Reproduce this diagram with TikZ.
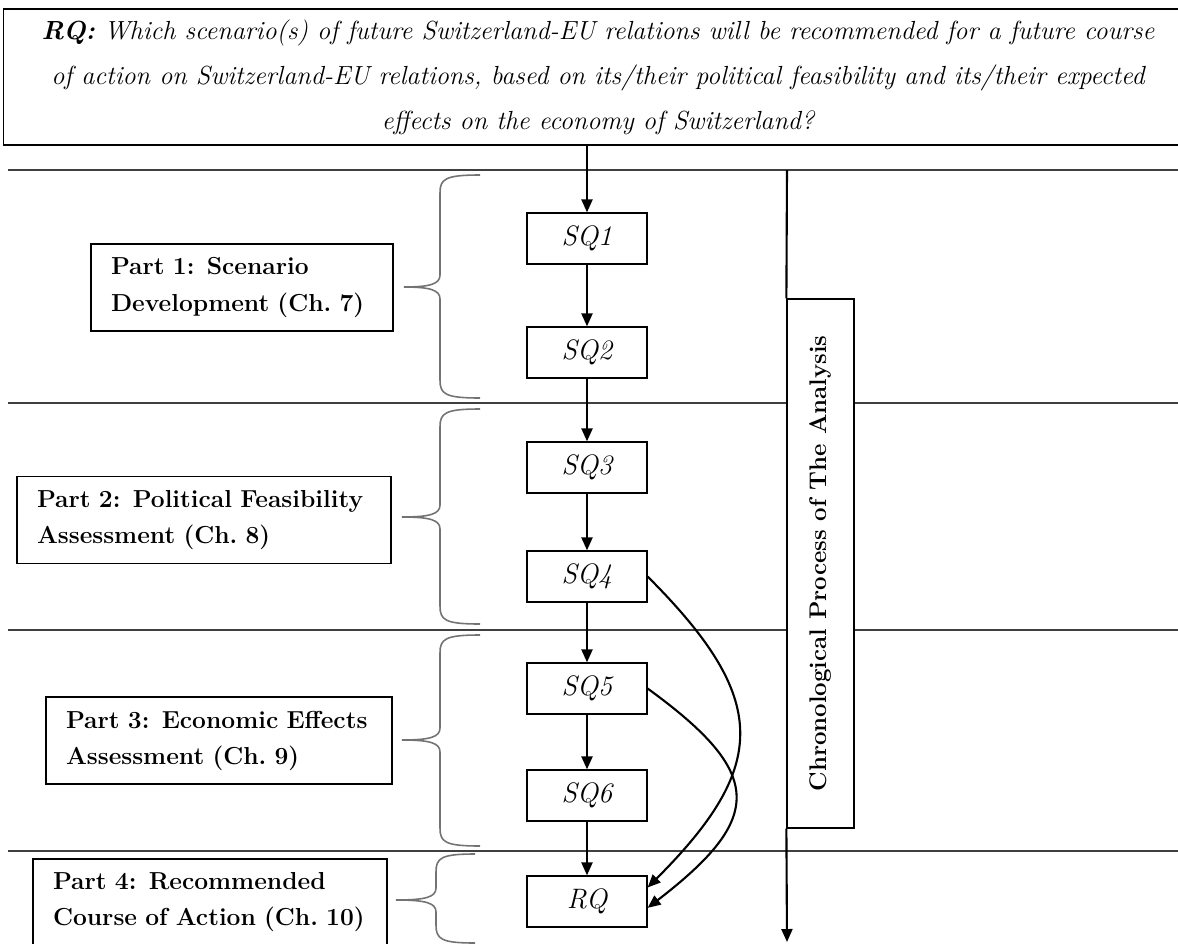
\documentclass[tikz,border=0pt]{standalone}
\usepackage{tikz}
\usetikzlibrary{
  arrows.meta,
  calc,
  positioning,
}
\tikzset{
  >={Triangle[length=0.26cm,width=0.22cm]},
}

\begin{document}
\begin{tikzpicture}[x=0.02cm, y=-0.02cm,
    question/.style={draw, line width=0.7pt, align=center,
      minimum width=23.8cm, minimum height=2.72cm,
      font=\fontsize{14.9}{25.6}\selectfont\itshape},
    subq/.style={draw, line width=0.7pt, minimum width=2.4cm,
      minimum height=1.02cm, font=\fontsize{16}{18}\selectfont\itshape},
    partbox/.style={draw, line width=0.7pt, align=left,
      minimum height=1.74cm, inner xsep=0.4cm,
      font=\fontsize{14}{20.5}\selectfont\bfseries},
    chronobox/.style={draw, fill=white, line width=0.7pt, rotate=90,
      minimum width=10.58cm, minimum height=1.34cm,
      font=\fontsize{13.7}{15}\selectfont\bfseries},
    divider/.style={line width=0.7pt, black!75},
    brace/.style={line width=0.9pt, black!55},
    flow/.style={->, line width=1.2pt},
  ]
  \useasboundingbox (0,0) rectangle (1178,944);

  % the four bands
  \foreach \y in {170,403,630,851} {
    \draw[divider] (8,\y) -- (1190,\y);
  }

  \node[question] (rq) at (598,77) {\textbf{RQ:} Which scenario(s) of future
    Switzerland-EU relations will be recommended for a future course\\
    of action on Switzerland-EU relations, based on its/their political
    feasibility and its/their expected\\
    effects on the economy of Switzerland?};

  \foreach \i/\y in {1/238.5, 2/352.5, 3/467.5, 4/576.5, 5/688.5, 6/795.5} {
    \node[subq] (sq\i) at (587,\y) {SQ\i};
  }
  \node[subq] (rqend) at (587,901.5) {RQ};

  \draw[flow] (rq.south -| sq1) -- (sq1);
  \foreach \a/\b in {sq1/sq2, sq2/sq3, sq3/sq4, sq4/sq5, sq5/sq6, sq6/rqend} {
    \draw[flow] (\a) -- (\b);
  }
  \draw[flow] (sq4.east) .. controls +(122,122) and +(122,-122) .. (rqend.13);
  \draw[flow] (sq5.east) .. controls +(117,85) and +(117,-90) .. (rqend.-6);

  % parts and their braces
  \node[partbox, text width=5.24cm] (part1) at (242,287.5)
    {Part 1: Scenario\\Development (Ch.~7)};
  \node[partbox, text width=6.68cm] (part2) at (204,520)
    {Part 2: Political Feasibility\\Assessment (Ch.~8)};
  \node[partbox, text width=6.12cm] (part3) at (219,740.5)
    {Part 3: Economic Effects\\Assessment (Ch.~9)};
  \node[partbox, text width=6.28cm] (part4) at (210,902.5)
    {Part 4: Recommended\\Course of Action (Ch.~10)};

  \foreach \t/\b/\m/\p/\s/\e in {175/398/287/404/440/480, 409/624/517/402/440/480,
      635/846/740/402/440/480, 854/943/900/396/436/475} {
    \draw[brace] (\e,\t) .. controls (\s+5,\t) and (\s,\t+4) .. (\s,\t+18)
      -- (\s,\m-12) .. controls (\s,\m-3) and (\s-10,\m) .. (\p,\m)
      .. controls (\s-10,\m) and (\s,\m+3) .. (\s,\m+12)
      -- (\s,\b-18) .. controls (\s,\b-4) and (\s+5,\b) .. (\e,\b);
  }

  % time line
  \node[chronobox] (chrono) at (820.5,563.5) {Chronological Process of The Analysis};
  \coordinate (chronstart) at (787,170);
  \coordinate (chronend) at (787,942);
  \draw[line width=1.2pt] (chronstart) -- (chrono.north east);
  \draw[flow] (chrono.north west) -- (chronend);
\end{tikzpicture}
\end{document}
